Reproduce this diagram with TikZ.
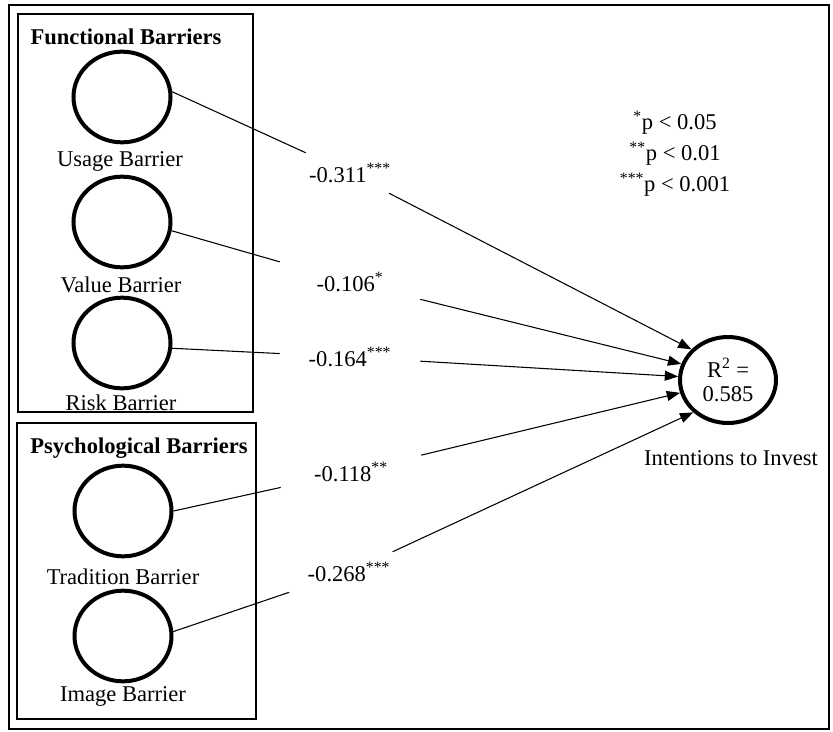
\documentclass[tikz,border=0pt]{standalone}
\usepackage{fontspec}
\setmainfont{Liberation Serif}
\usetikzlibrary{positioning}
\usetikzlibrary{arrows.meta,shapes.geometric}

\begin{document}
\begin{tikzpicture}
  [x=0.75pt, y=-0.75pt,
  every node/.style={font=\fontsize{16.9}{18}\selectfont},
  latent/.style={ellipse,draw=black,line width=3pt,inner sep=0pt,minimum width=72.75pt,minimum height=68pt},
  coef/.style={inner sep=0pt,minimum width=105pt,minimum height=30pt},
  link/.style={black,line width=0.8pt},
  toarrow/.style={link,-{Triangle[length=10pt,width=7.5pt]}},
  frame/.style={draw=black,line width=0.9pt}]
  \useasboundingbox (0,0) rectangle (833,732);
  \draw [line width=1.6pt] (9,5) rectangle (829,729);

  \draw [frame] (18,14) rectangle (253,412);
  \node[font=\fontsize{16.9}{18}\selectfont\bfseries] (functitle) at (126,37) {Functional Barriers};
  \node[latent] (usage) at (122,97) {};
  \node (usagetxt) at (120,161) {Usage Barrier};
  \node[latent] (value) at (122,222) {};
  \node (valuetxt) at (121,285) {Value Barrier};
  \node[latent] (risk) at (122,343) {};
  \node (risktxt) at (121,403) {Risk Barrier};

  \draw [frame] (17,423) rectangle (256,719);
  \node[font=\fontsize{16.9}{18}\selectfont\bfseries] (psychtitle) at (139,448) {Psychological Barriers};
  \node[latent] (tradition) at (123,511) {};
  \node (traditiontxt) at (123,577) {Tradition Barrier};
  \node[latent] (image) at (123,636) {};
  \node (imagetxt) at (123,696) {Image Barrier};

  \node[latent,minimum width=72pt,minimum height=64.5pt,align=center] (intent) at (728,380) {R\textsuperscript{2} =\\0.585};
  \node (intenttxt) at (731,458) {Intentions to Invest};

  \node[align=center,font=\fontsize{16.9}{23.25}\selectfont] (sig) at (675,154) {\textsuperscript{*}p < 0.05\\\textsuperscript{**}p < 0.01\\\textsuperscript{***}p < 0.001};

  \node[coef] (c1) at (350,173) {-0.311\textsuperscript{***}};
  \node[coef] (c2) at (350,282) {-0.106\textsuperscript{*}};
  \node[coef] (c3) at (350,357) {-0.164\textsuperscript{***}};
  \node[coef] (c4) at (351,472) {-0.118\textsuperscript{**}};
  \node[coef] (c5) at (349,572) {-0.268\textsuperscript{***}};

  \draw [link] (usage.6) -- (c1);
  \draw [link] (value.-10) -- (c2);
  \draw [link] (risk.-6) -- (c3);
  \draw [link] (tradition.0) -- (c4);
  \draw [link] (image.5) -- (c5);

  \draw [toarrow] (c1) -- (intent.140);
  \draw [toarrow] (c2) -- (intent.161);
  \draw [toarrow] (c3) -- (intent.176);
  \draw [toarrow] (c4) -- (intent.195);
  \draw [toarrow] (c5) -- (intent.223);
\end{tikzpicture}
\end{document}
